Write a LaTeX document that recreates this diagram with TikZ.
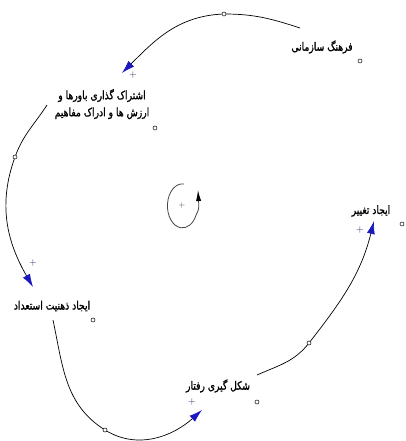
\documentclass[tikz,border=0pt]{standalone}
\usepackage{fontspec}
\newfontfamily\fa[Script=Arabic,FakeStretch=0.8,FakeBold=1.2]{DejaVu Sans}
\TeXXeTstate=1
\usetikzlibrary{arrows.meta}
\definecolor{arrowblue}{RGB}{28,24,190}
\definecolor{polcol}{RGB}{50,40,110}
\definecolor{loopgray}{RGB}{70,70,70}
\begin{document}
\begin{tikzpicture}[x=1pt,y=1pt,
  lbl/.style={font=\fa\fontsize{11.5}{17}\selectfont, inner sep=0pt, align=center},
  handle/.style={circle, draw, fill=white, inner sep=0pt, minimum size=4pt, line width=0.5pt},
  link/.style={line width=0.7pt, -{Latex[length=13pt,width=8pt,color=arrowblue,fill=arrowblue]}},
  pol/.style={font=\fontsize{10}{10}\selectfont, text=polcol, inner sep=0pt}]
\useasboundingbox (0,0) rectangle (405,441);
\fill[white] (0,0) rectangle (405,441);

% variables
\node[lbl] (A) at (322,394) {\beginR فرهنگ سازمانی\endR};
\node[lbl] (B) at (102,337) {\beginR اشتراک گذاری باورها و\endR\\\beginR ارزش ها و ادراک مفاهیم\endR};
\node[lbl] (C) at (52,135) {\beginR ایجاد ذهنیت استعداد\endR};
\node[lbl] (D) at (218,55) {\beginR شکل گیری رفتار\endR};
\node[lbl] (E) at (371,230) {\beginR ایجاد تغییر\endR};

% small markers under variables
\node[handle] (ca) at (360,380) {};
\node[handle] (cb) at (155,313) {};
\node[handle] (cc) at (93,121) {};
\node[handle] (cd) at (257,39) {};
\node[handle] (ce) at (402,217) {};

% link endpoints
\coordinate (s1) at (300,413);
\coordinate (e1) at (122,368);
\coordinate (s2) at (47,336);
\coordinate (e2) at (33,154);
\coordinate (s3) at (53,121);
\coordinate (e3) at (202,31);
\coordinate (s4) at (257,66);
\coordinate (e4) at (374,220);

% handles
\coordinate (h1) at (224,427);
\coordinate (h2) at (15,284);
\coordinate (h3) at (105,11);
\coordinate (h4) at (309,98);

% links
\draw[link] (s1) to[out=162,in=0] (h1) to[out=182,in=45] (e1);
\draw[link] (s2) to[out=237,in=70] (h2) to[out=250,in=120] (e2);
\draw[link] (s3) to[out=282,in=148] (h3) to[out=328,in=222] (e3);
\draw[link] (s4) to[out=24,in=232] (h4) to[out=52,in=256] (e4);
\foreach \h in {h1,h2,h3,h4} \node[handle] at (\h) {};

% polarities
\node[pol] (p1) at (133,366) {+};
\node[pol] (p2) at (33,178) {+};
\node[pol] (p3) at (192,39) {+};
\node[pol] (p4) at (360,211) {+};

% loop symbol
\node[font=\fontsize{8}{8}\selectfont, text=loopgray, inner sep=0pt] (L) at (182,235) {+};
\draw[loopgray, line width=0.8pt] (184,257) arc[start angle=84, end angle=335, x radius=15, y radius=22]
  coordinate (lp);
\draw[loopgray, line width=0.8pt, -{Latex[length=11pt,width=5pt,color=black,fill=black]}]
  (lp) .. controls (199,232) .. (198,251);
\end{tikzpicture}
\end{document}
